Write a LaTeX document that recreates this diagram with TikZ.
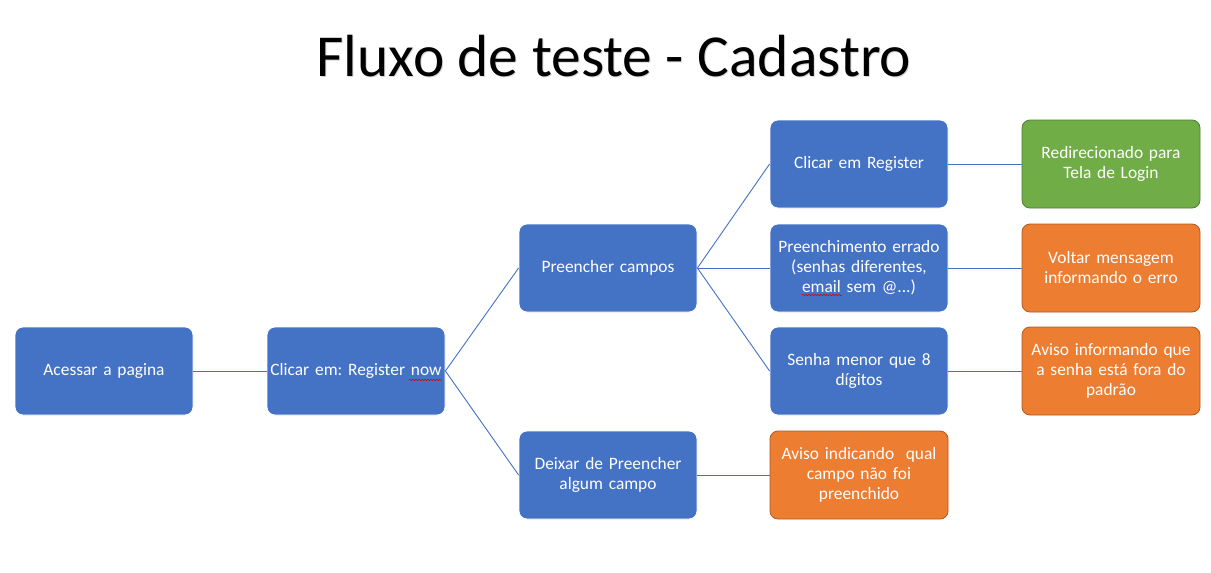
\documentclass[tikz,border=0pt]{standalone}
\usepackage{fontspec}
\setmainfont{Carlito}
\usetikzlibrary{decorations.pathmorphing}
\definecolor{cblue}{HTML}{4472C4}
\definecolor{corange}{HTML}{ED7D31}
\definecolor{corangeb}{HTML}{AE5A21}
\definecolor{cgreen}{HTML}{70AD47}
\definecolor{cgreenb}{HTML}{507E32}
\tikzset{
  box/.style={rounded corners=8pt, minimum width=178pt, minimum height=88pt,
    text width=176pt, inner sep=1pt, align=center, text=white,
    font=\fontsize{17.4}{20}\selectfont},
  bluebox/.style={box, fill=cblue, draw=white, line width=0.8pt},
  orangebox/.style={box, fill=corange, draw=corangeb, line width=0.8pt},
  greenbox/.style={box, fill=cgreen, draw=cgreenb, line width=0.8pt},
  link/.style={draw=cblue, line width=0.9pt},
  squiggle/.style={draw=red!85!black, line width=0.5pt,
    decorate, decoration={snake, amplitude=0.8pt, segment length=3pt}}
}
\begin{document}
\frenchspacing
\begin{tikzpicture}[x=1pt,y=-1pt]
\path[use as bounding box, fill=white] (0,0) rectangle (1211,573);
% title
\node[text=black!15, font=\fontsize{59.5}{64}\selectfont] at (615,57) {Fluxo de teste - Cadastro};
\node (title) [text=black, font=\fontsize{59.5}{64}\selectfont] at (614,56) {Fluxo de teste - Cadastro};
% nodes
\node[bluebox] (a) at (104,371) {Acessar a pagina};
\node[bluebox] (b) at (356,371) {Clicar em: Register now};
\node[bluebox] (c) at (608,268) {Preencher campos};
\node[bluebox] (d) at (608,475) {Deixar de Preencher\\algum campo};
\node[bluebox] (e) at (859,164) {Clicar em Register};
\node[bluebox] (f) at (859,268) {Preenchimento errado\\(senhas diferentes,\\email sem @...)};
\node[bluebox] (g) at (859,371) {Senha menor que 8\\dígitos};
\node[orangebox] (h) at (859,475) {Aviso indicando\ \ qual\\campo não foi\\preenchido};
\node[greenbox] (i) at (1111,164) {Redirecionado para\\Tela de Login};
\node[orangebox] (j) at (1111,268) {Voltar mensagem\\informando o erro};
\node[orangebox] (k) at (1111,371) {Aviso informando que\\a senha está fora do\\padrão};
% connectors
\draw[link] (a.east) -- (b.west);
\draw[link] (b.east) -- (c.west);
\draw[link] (b.east) -- (d.west);
\draw[link] (c.east) -- (e.west);
\draw[link] (c.east) -- (f.west);
\draw[link] (c.east) -- (g.west);
\draw[link] (d.east) -- (h.west);
\draw[link] (e.east) -- (i.west);
\draw[link] (f.east) -- (j.west);
\draw[link] (g.east) -- (k.west);
% spell-check marks
\coordinate (s1a) at ([shift={(53,9)}]b.center);
\coordinate (s1b) at ([shift={(86,9)}]b.center);
\draw[squiggle] (s1a) -- (s1b);
\coordinate (s2a) at ([shift={(-57,27)}]f.center);
\coordinate (s2b) at ([shift={(-17,27)}]f.center);
\draw[squiggle] (s2a) -- (s2b);
\end{tikzpicture}
\end{document}
